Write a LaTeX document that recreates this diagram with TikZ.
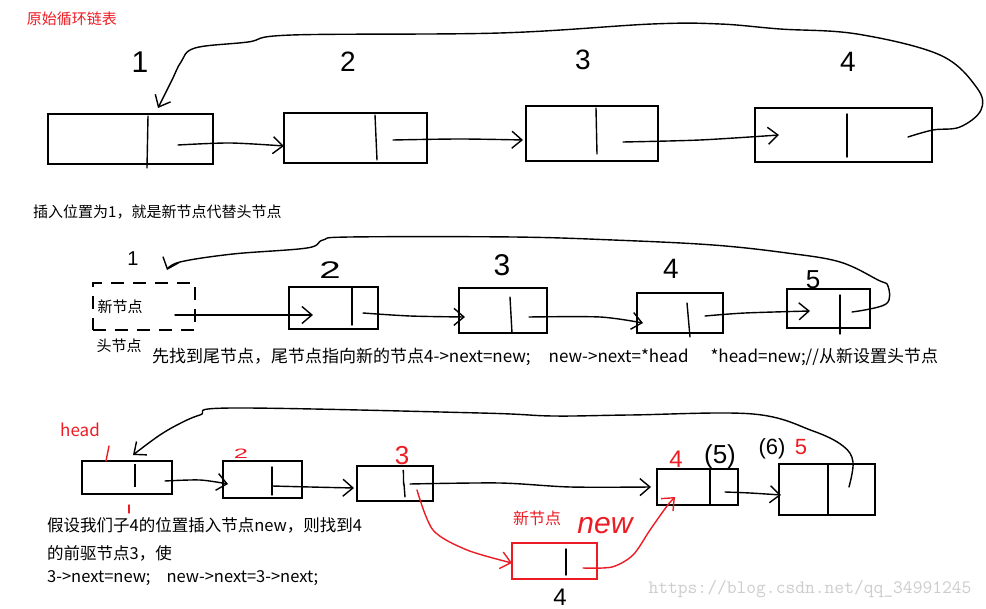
\documentclass[tikz,border=0pt]{standalone}
\usepackage{fontspec}
\setmainfont{Noto Sans CJK SC}
\newfontfamily\hand{Liberation Sans}
\usetikzlibrary{arrows.meta}
\definecolor{redt}{RGB}{237,28,36}
\definecolor{wm}{RGB}{205,205,205}
\tikzset{
  box/.style={draw, line width=1.4pt, inner sep=0pt, outer sep=0pt},
  hl/.style={line width=1.4pt, line cap=round, line join=round},
  arr/.style={hl, -{Straight Barb[length=10pt,width=17pt]}},
  txt/.style={inner sep=0pt, font=\fontsize{15}{18}\selectfont},
  btxt/.style={inner sep=0pt, anchor=west, font=\fontsize{16.5}{20}\selectfont},
  hw/.style={inner sep=0pt, font=\hand\fontsize{#1}{#1}\selectfont},
}
\begin{document}
\begin{tikzpicture}[x=1pt,y=-1pt]
\useasboundingbox (0,0) rectangle (986,609);
\fill[white] (0,0) rectangle (986,609);

% ---------------- section 1
\node[txt, text=redt] (title) at (72,19) {原始循环链表};
\node[box, minimum width=165pt, minimum height=50pt] (a1) at (130.5,139) {};
\node[box, minimum width=143pt, minimum height=50pt] (a2) at (355.5,138) {};
\node[box, minimum width=132pt, minimum height=55pt] (a3) at (592,133.5) {};
\node[box, minimum width=177pt, minimum height=54pt] (a4) at (843.5,135) {};
\draw[hl] (148,116) -- (147,168);
\draw[hl] (375,115) -- (377,160);
\draw[hl] (596,108) -- (597,154);
\draw[hl] (847,114) -- (847,157);
\node[hw=30] (l1) at (140,62) {1};
\node[hw=28] (l2) at (348,62) {2};
\node[hw=28] (l3) at (583,60) {3};
\node[hw=28] (l4) at (848,62) {4};
\coordinate (a1p) at (178,145);
\coordinate (a2in) at (284,146);
\coordinate (a2p) at (393,140);
\coordinate (a3in) at (523,140);
\coordinate (a3p) at (623,142);
\coordinate (a4in) at (779,135);
\coordinate (a4p) at (908,137);
\coordinate (a1top) at (158,108);
\draw[arr] plot[smooth] coordinates {(a1p) (230,143) (a2in)};
\draw[arr] plot[smooth] coordinates {(a2p) (460,139) (a3in)};
\draw[arr] plot[smooth] coordinates {(a3p) (700,140) (a4in)};
\draw[arr] plot[smooth, tension=0.6] coordinates {(a4p) (933,130) (960,127) (981,110) (977,88) (940,55) (857,34) (780,29) (720,24) (652,24) (500,33) (292,35) (248,42) (195,48) (181,62) (172,80) (a1top)};

% ---------------- section 2
\node[txt, anchor=west] (t2) at (33,212) {插入位置为1，就是新节点代替头节点};
\node[box, dash pattern=on 13pt off 9pt, minimum width=102pt, minimum height=47pt] (d1) at (144,306.5) {};
\node[txt] (d1t) at (120,307) {新节点};
\node[txt] (d1h) at (119,346) {头节点};
\node[box, minimum width=89pt, minimum height=42pt] (b2) at (333.5,308) {};
\node[box, minimum width=88pt, minimum height=45pt] (b3) at (503,310.5) {};
\node[box, minimum width=86pt, minimum height=40pt] (b4) at (680,313) {};
\node[box, minimum width=83pt, minimum height=39pt] (b5) at (828.5,308.5) {};
\draw[hl] (352,288) -- (352,325);
\draw[hl] (510,297) -- (512,333);
\draw[hl] (687,303) -- (690,337);
\draw[hl] (840,295) -- (840,334);
\node[hw=20] (m1) at (133,259) {1};
\node[hw=24, xscale=1.6] (m2) at (330,270) {2};
\node[hw=30] (m3) at (502,265) {3};
\node[hw=28] (m4) at (671,269) {4};
\node[hw=26] (m5) at (813,280) {5};
\coordinate (d1p) at (175,315);
\coordinate (b2in) at (313,315);
\coordinate (b2p) at (363,313);
\coordinate (b3in) at (465,317);
\coordinate (b3p) at (529,317);
\coordinate (b4in) at (643,323);
\coordinate (b4p) at (705,316);
\coordinate (b5in) at (810,311);
\coordinate (b5p) at (852,312);
\coordinate (d1top) at (167,270);
\draw[arr] plot[smooth] coordinates {(d1p) (250,315) (b2in)};
\draw[arr] plot[smooth] coordinates {(b2p) (410,316) (b3in)};
\draw[arr] plot[smooth] coordinates {(b3p) (600,317) (b4in)};
\draw[arr] plot[smooth] coordinates {(b4p) (745,313) (b5in)};
\draw[arr] plot[smooth, tension=0.6] coordinates {(b5p) (886,304) (888,286) (878,280) (840,262) (787,253) (713,245) (613,240) (513,237) (350,237) (323,240) (307,248) (233,254) (180,262) (d1top)};
\node[btxt, font=\fontsize{17}{20}\selectfont] (t3) at (152,357) {先找到尾节点，尾节点指向新的节点4->next=new;\hspace{18pt}new->next=*head\hspace{22pt}*head=new;//从新设置头节点};

% ---------------- section 3
\node[txt, text=redt, font=\fontsize{17}{20}\selectfont] (head) at (80,430) {head};
\node[box, minimum width=90pt, minimum height=33pt] (c1) at (127,477.5) {};
\node[box, minimum width=79pt, minimum height=37pt] (c2) at (262.5,479.5) {};
\node[box, minimum width=76pt, minimum height=35pt] (c3) at (395,483.5) {};
\node[box, minimum width=81pt, minimum height=36pt] (c4) at (697.5,487) {};
\node[box, minimum width=96pt, minimum height=51pt] (c5) at (827,489.5) {};
\node[box, draw=redt, minimum width=85pt, minimum height=36pt] (nn) at (554.5,561) {};
\draw[line width=2.6pt] (135,464) -- (135,487);
\draw[hl] (272,467) -- (272,495);
\draw[hl] (403,471) to[out=80,in=-100] (404,484) -- (405,497);
\draw[hl] (710,469) -- (710,505);
\draw[hl] (828,464) -- (828,515);
\draw[hl] (566,549) -- (566,575);
\draw[hl, draw=redt] (109,446) -- (106,461);
\draw[hl, draw=redt] (129,505) -- (129,513);
\node[hw=17, text=redt, xscale=1.5, yscale=0.8] (r2) at (241,454) {2};
\node[hw=26, text=redt] (r3) at (402,456) {3};
\node[hw=24, text=redt] (r4) at (676,459) {4};
\node[hw=26] (p5) at (720,457) {(5)};
\node[hw=22] (p6) at (772,449) {(6)};
\node[hw=22, text=redt] (r5) at (801,447) {5};
\node[txt, text=redt, font=\fontsize{16}{18}\selectfont] (nnt) at (537,518) {新节点};
\node[hw=30, text=redt, font=\hand\itshape\fontsize{30}{30}\selectfont] (nnew) at (605,526) {new};
\node[hw=24] (n4) at (560,597) {4};
\coordinate (c1p) at (165,481);
\coordinate (c2in) at (228,484);
\coordinate (c2p) at (272,486);
\coordinate (c3in) at (354,488);
\coordinate (c3p) at (410,484);
\coordinate (c3r) at (417,490);
\coordinate (c4in) at (651,487);
\coordinate (c4p) at (725,492);
\coordinate (c5in) at (781,495);
\coordinate (c5p) at (849,487);
\coordinate (c1top) at (133,455);
\coordinate (nnin) at (512,563);
\coordinate (nnp) at (583,568);
\coordinate (c4b) at (675,497);
\draw[arr] plot[smooth] coordinates {(c1p) (200,480) (c2in)};
\draw[arr] plot[smooth] coordinates {(c2p) (310,487) (c3in)};
\draw[arr] plot[smooth] coordinates {(c3p) (500,483) (570,487) (c4in)};
\draw[arr] plot[smooth] coordinates {(c4p) (750,493) (c5in)};
\draw[arr, draw=redt] plot[smooth] coordinates {(c3r) (433,530) (467,550) (nnin)};
\draw[arr, draw=redt] plot[smooth] coordinates {(nnp) (612,567) (633,555) (650,530) (667,506) (c4b)};
\draw[arr] plot[smooth, tension=0.6] coordinates {(c5p) (853,462) (843,446) (813,431) (753,414) (630,415) (553,416) (480,413) (233,408) (200,415) (177,425) (157,437) (c1top)};
\node[btxt] (t4) at (47,525) {假设我们子4的位置插入节点new，则找到4};
\node[btxt] (t5) at (47,553) {的前驱节点3，使};
\node[btxt] (t6) at (47,578) {3->next=new;\hspace{16pt}new->next=3->next;};
\node[inner sep=0pt, text=wm, font=\ttfamily\fontsize{19}{20}\selectfont] (wmark) at (810,589) {https://blog.csdn.net/qq\_34991245};
\end{tikzpicture}
\end{document}
